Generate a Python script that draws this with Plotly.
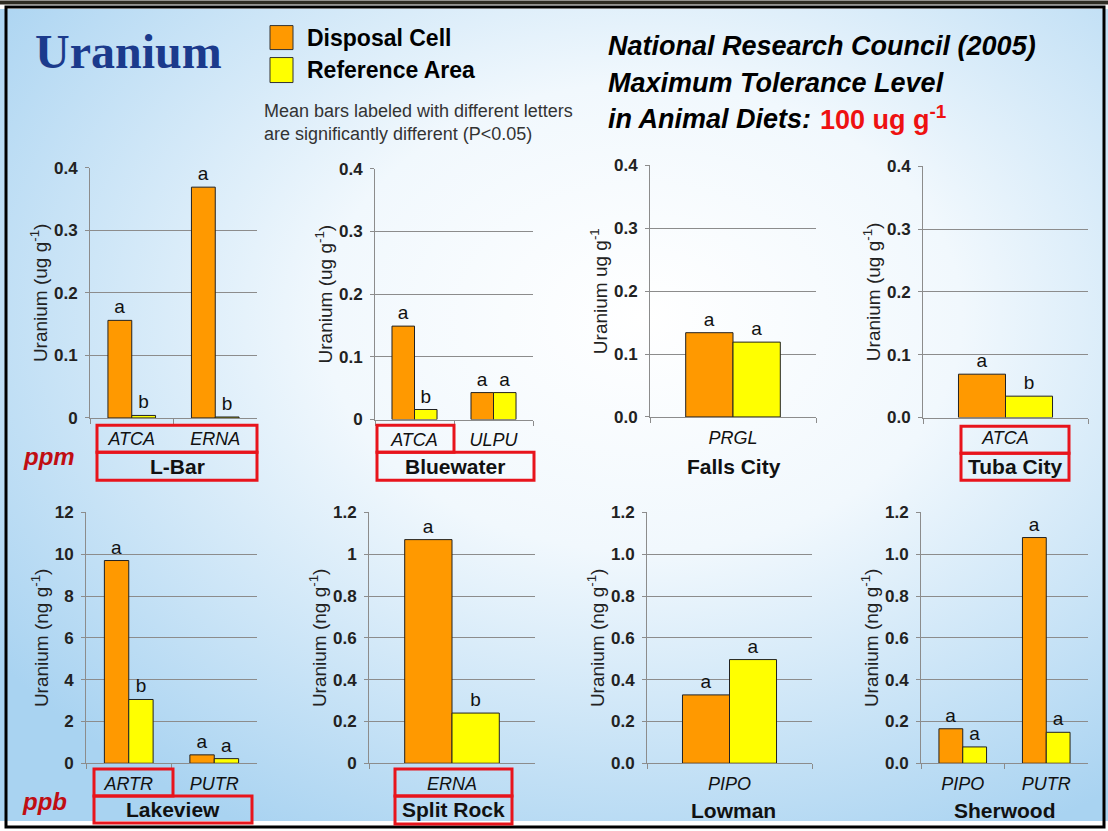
import base64
import plotly.graph_objects as go

W, H = 1108, 831

# ---------------- data ----------------
lbar_species = ["ATCA", "ERNA"]
lbar_disposal = [0.156, 0.369]
lbar_reference = [0.004, 0.0015]
lbar_disposal_letters = ["a", "a"]
lbar_reference_letters = ["b", "b"]

bluewater_species = ["ATCA", "ULPU"]
bluewater_disposal = [0.149, 0.043]
bluewater_reference = [0.016, 0.043]
bluewater_disposal_letters = ["a", "a"]
bluewater_reference_letters = ["b", "a"]

fallscity_species = ["PRGL"]
fallscity_disposal = [0.134]
fallscity_reference = [0.119]
fallscity_disposal_letters = ["a"]
fallscity_reference_letters = ["a"]

tubacity_species = ["ATCA"]
tubacity_disposal = [0.069]
tubacity_reference = [0.034]
tubacity_disposal_letters = ["a"]
tubacity_reference_letters = ["b"]

lakeview_species = ["ARTR", "PUTR"]
lakeview_disposal = [9.7, 0.40]
lakeview_reference = [3.05, 0.22]
lakeview_disposal_letters = ["a", "a"]
lakeview_reference_letters = ["b", "a"]

splitrock_species = ["ERNA"]
splitrock_disposal = [1.07]
splitrock_reference = [0.24]
splitrock_disposal_letters = ["a"]
splitrock_reference_letters = ["b"]

lowman_species = ["PIPO"]
lowman_disposal = [0.327]
lowman_reference = [0.496]
lowman_disposal_letters = ["a"]
lowman_reference_letters = ["a"]

sherwood_species = ["PIPO", "PUTR"]
sherwood_disposal = [0.165, 1.08]
sherwood_reference = [0.078, 0.148]
sherwood_disposal_letters = ["a", "a"]
sherwood_reference_letters = ["a", "a"]

ppm_tickvals = [0, 0.1, 0.2, 0.3, 0.4]
ppm_ticktext_a = ["0", "0.1", "0.2", "0.3", "0.4"]
ppm_ticktext_b = ["0.0", "0.1", "0.2", "0.3", "0.4"]
lakeview_tickvals = [0, 2, 4, 6, 8, 10, 12]
lakeview_ticktext = ["0", "2", "4", "6", "8", "10", "12"]
ppb_tickvals = [0, 0.2, 0.4, 0.6, 0.8, 1.0, 1.2]
splitrock_ticktext = ["0", "0.2", "0.4", "0.6", "0.8", "1", "1.2"]
ppb_ticktext = ["0.0", "0.2", "0.4", "0.6", "0.8", "1.0", "1.2"]

site_names = ["L-Bar", "Bluewater", "Falls City", "Tuba City",
              "Lakeview", "Split Rock", "Lowman", "Sherwood"]

series_names = ["Disposal Cell", "Reference Area"]
ytitle_ug = "Uranium (ug g<sup>-1</sup>)"
ytitle_ug_plain = "Uranium ug g<sup>-1</sup>"
ytitle_ng = "Uranium (ng g<sup>-1</sup>)"

# ---------------- styling / layout ----------------
ORANGE = "#FF9900"
YELLOW = "#FFFF00"
RED = "#E8141C"
GRID = "#8c8c8c"
FONT = "Arial, Liberation Sans, sans-serif"

# the photographed page shows the figure slightly shifted/compressed vertically;
# positions below are given in target-image pixels and mapped through this.
Y_OFF = 8.4
Y_SCALE = 0.978


def px(x):
    return x / W


def py(y):
    return 1 - ((y - Y_OFF) / Y_SCALE) / H


panels = [
    dict(species=lbar_species, dc=lbar_disposal, ra=lbar_reference,
         dcl=lbar_disposal_letters, ral=lbar_reference_letters,
         box=(90, 257, 167.3, 417.7), rng=[0, 0.4], tv=ppm_tickvals, tt=ppm_ticktext_a, yt=ytitle_ug),
    dict(species=bluewater_species, dc=bluewater_disposal, ra=bluewater_reference,
         dcl=bluewater_disposal_letters, ral=bluewater_reference_letters,
         box=(375, 533, 168.3, 419.3), rng=[0, 0.4], tv=ppm_tickvals, tt=ppm_ticktext_a, yt=ytitle_ug),
    dict(species=fallscity_species, dc=fallscity_disposal, ra=fallscity_reference,
         dcl=fallscity_disposal_letters, ral=fallscity_reference_letters,
         box=(650, 816, 165, 416.7), rng=[0, 0.4], tv=ppm_tickvals, tt=ppm_ticktext_b, yt=ytitle_ug_plain),
    dict(species=tubacity_species, dc=tubacity_disposal, ra=tubacity_reference,
         dcl=tubacity_disposal_letters, ral=tubacity_reference_letters,
         box=(923, 1088, 165.7, 417.3), rng=[0, 0.4], tv=ppm_tickvals, tt=ppm_ticktext_b, yt=ytitle_ug),
    dict(species=lakeview_species, dc=lakeview_disposal, ra=lakeview_reference,
         dcl=lakeview_disposal_letters, ral=lakeview_reference_letters,
         box=(86, 257, 512.3, 763.3), rng=[0, 12], tv=lakeview_tickvals, tt=lakeview_ticktext, yt=ytitle_ng),
    dict(species=splitrock_species, dc=splitrock_disposal, ra=splitrock_reference,
         dcl=splitrock_disposal_letters, ral=splitrock_reference_letters,
         box=(369, 535, 512.3, 763.3), rng=[0, 1.2], tv=ppb_tickvals, tt=splitrock_ticktext, yt=ytitle_ng),
    dict(species=lowman_species, dc=lowman_disposal, ra=lowman_reference,
         dcl=lowman_disposal_letters, ral=lowman_reference_letters,
         box=(647, 812, 512.3, 763.3), rng=[0, 1.2], tv=ppb_tickvals, tt=ppb_ticktext, yt=ytitle_ng),
    dict(species=sherwood_species, dc=sherwood_disposal, ra=sherwood_reference,
         dcl=sherwood_disposal_letters, ral=sherwood_reference_letters,
         box=(921, 1088, 512.3, 763.3), rng=[0, 1.2], tv=ppb_tickvals, tt=ppb_ticktext, yt=ytitle_ng),
]

fig = go.Figure()
layout_axes = {}

for i, p in enumerate(panels, start=1):
    xa = "x" if i == 1 else f"x{i}"
    ya = "y" if i == 1 else f"y{i}"
    for vals, letters, color, name in [(p["dc"], p["dcl"], ORANGE, series_names[0]),
                                       (p["ra"], p["ral"], YELLOW, series_names[1])]:
        fig.add_trace(go.Bar(
            x=p["species"], y=vals, name=name, legendgroup=name, showlegend=False,
            marker=dict(color=color, line=dict(color="#222222", width=1)),
            text=letters, textposition="outside", constraintext="none", cliponaxis=False,
            textfont=dict(family=FONT, size=19, color="#111111"),
            xaxis=xa, yaxis=ya,
        ))
    x0, x1, y0, y1 = p["box"]
    xkey = "xaxis" if i == 1 else f"xaxis{i}"
    ykey = "yaxis" if i == 1 else f"yaxis{i}"
    layout_axes[xkey] = dict(
        domain=[px(x0), px(x1)], anchor=ya, type="category",
        showgrid=False, showline=True, linecolor=GRID, linewidth=1,
        ticks="outside", tickson="boundaries", ticklen=5, tickcolor=GRID,
        tickfont=dict(family=FONT, size=18, color="#111111", style="italic"),
        ticklabelstandoff=4,
    )
    layout_axes[ykey] = dict(
        domain=[py(y1), py(y0)], anchor=xa, range=p["rng"],
        tickvals=p["tv"], ticktext=p["tt"],
        showgrid=True, gridcolor=GRID, gridwidth=1,
        showline=True, linecolor=GRID, linewidth=1, zeroline=False,
        ticks="outside", ticklen=4, tickcolor=GRID, ticklabelstandoff=4,
        tickfont=dict(family=FONT, size=17, color="#222222", weight="bold"),
        title=dict(text=p["yt"], font=dict(family=FONT, size=19, color="#222222"), standoff=1),
    )

# ---------------- background gradient ----------------
svg = f'''<svg xmlns="http://www.w3.org/2000/svg" width="{W}" height="{H}" viewBox="0 0 {W} {H}" preserveAspectRatio="none">
<defs><radialGradient id="g" cx="0.58" cy="0.38" r="0.72">
<stop offset="0" stop-color="#ffffff"/>
<stop offset="0.40" stop-color="#f1f8fd"/>
<stop offset="1" stop-color="#a9d3f1"/>
</radialGradient></defs>
<rect x="0" y="0" width="{W}" height="{H}" fill="url(#g)"/></svg>'''
bg_src = "data:image/svg+xml;base64," + base64.b64encode(svg.encode()).decode()

shapes = []
# top dark strip and frame
shapes.append(dict(type="rect", xref="paper", yref="paper", x0=0, x1=1, y0=py(4), y1=py(0),
                   fillcolor="#2d2b22", line=dict(width=0)))
shapes.append(dict(type="rect", xref="paper", yref="paper", x0=px(6), x1=px(1104), y0=py(827), y1=py(6.5),
                   line=dict(color="#000000", width=3)))


def red_box(x0, x1, y0, y1):
    shapes.append(dict(type="rect", xref="paper", yref="paper",
                       x0=px(x0), x1=px(x1), y0=py(y1), y1=py(y0),
                       line=dict(color=RED, width=3)))


# species and site boxes
red_box(97, 257, 425, 452); red_box(97, 257, 452, 480)          # L-Bar
red_box(377, 454, 425, 452); red_box(377, 534, 452, 480)        # Bluewater
red_box(961, 1069, 426, 453); red_box(961, 1069, 453, 480)      # Tuba City
red_box(94, 173, 769, 796); red_box(94, 252, 796, 823)          # Lakeview
red_box(395, 512, 769, 796); red_box(395, 512, 796, 824)        # Split Rock

# legend squares
shapes.append(dict(type="rect", xref="paper", yref="paper", x0=px(270), x1=px(293), y0=py(49), y1=py(25),
                   fillcolor=ORANGE, line=dict(color="#333333", width=1)))
shapes.append(dict(type="rect", xref="paper", yref="paper", x0=px(270), x1=px(293), y0=py(82), y1=py(57),
                   fillcolor=YELLOW, line=dict(color="#333333", width=1)))

ann = []


def text(x, y, s, size, color="#000000", weight="normal", style="normal", xanchor="center",
         family=FONT, align="center"):
    ann.append(dict(x=px(x), y=py(y), xref="paper", yref="paper", text=s, showarrow=False,
                    xanchor=xanchor, yanchor="middle", align=align,
                    font=dict(family=family, size=size, color=color, weight=weight, style=style)))


text(128, 51, "Uranium", 48, color="#1b3a8c", weight="bold",
     family="Liberation Serif, Times New Roman, serif")
text(305, 37, series_names[0], 23, weight="bold", xanchor="left")
text(305, 69, series_names[1], 23, weight="bold", xanchor="left")
text(262, 122, "Mean bars labeled with different letters<br>are significantly different (P<0.05)",
     18, color="#333333", xanchor="left", align="left")
text(606, 45, "National Research Council (2005)", 27, weight="bold", style="italic", xanchor="left")
text(606, 82, "Maximum Tolerance Level", 27, weight="bold", style="italic", xanchor="left")
text(606, 118, "in Animal Diets:", 27, weight="bold", style="italic", xanchor="left")
text(818, 117, "100 ug g<sup>-1</sup>", 27, color="#EE1111", weight="bold", xanchor="left")
text(49, 456, "ppm", 24, color="#C00D12", weight="bold", style="italic")
text(44, 802, "ppb", 24, color="#C00D12", weight="bold", style="italic")

site_pos = [(177, 466), (455, 466), (734, 466), (1015, 466),
            (173, 810), (453, 810), (733, 811), (1005, 811)]
for name, (x, y) in zip(site_names, site_pos):
    text(x, y, name, 21, color="#111111", weight="bold")

fig.update_layout(
    width=W, height=H,
    margin=dict(l=0, r=0, t=0, b=0),
    paper_bgcolor="#ffffff", plot_bgcolor="rgba(0,0,0,0)",
    barmode="group", bargap=0.43, bargroupgap=0,
    showlegend=False,
    font=dict(family=FONT),
    images=[dict(source=bg_src, xref="paper", yref="paper", x=0, y=1, sizex=1, sizey=1,
                 xanchor="left", yanchor="top", sizing="stretch", layer="below")],
    shapes=shapes, annotations=ann,
    **layout_axes,
)

pin_js = (
    "document.documentElement.style.margin='0px';"
    "document.documentElement.style.overflow='hidden';"
    "document.body.style.margin='0px';"
    "document.body.style.padding='0px';"
    "document.body.style.overflow='hidden';"
    "var gd=document.getElementsByClassName('plotly-graph-div')[0];"
    "gd.style.position='absolute';gd.style.left='0px';gd.style.top='0px';"
)

fig.write_html("out.html", config={"displayModeBar": False}, post_script=pin_js)
